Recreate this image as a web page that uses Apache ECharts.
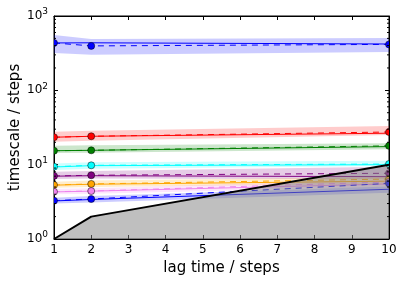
<!DOCTYPE html>
<html><head><meta charset="utf-8">
<script src="https://cdn.jsdelivr.net/npm/echarts@6/dist/echarts.min.js"></script>
<style>html,body{margin:0;padding:0;background:#fff}#c{width:403px;height:283px}</style>
</head><body><div id="c"></div>
<script>
// ---- data ----
var lags = [1, 2, 10];
var colors = ['#0000ff', '#ff0000', '#008000', '#00ffff', '#800080', '#ffa500', '#ee82ee', '#0000ff'];
// maximum-likelihood timescales (dashed, markers)
var ml = [
  [434, 396, 415],
  [23.4, 24.1, 27.5],
  [15.4, 15.6, 17.9],
  [9.4, 9.8, 10.2],
  [7.05, 7.2, 7.66],
  [5.33, 5.5, 6.4],
  [4.33, 4.42, 5.85],
  [3.28, 3.45, 5.6]
];
// sample means (solid)
var mean = [
  [434, 436, 420],
  [23.4, 24.1, 26.5],
  [15.4, 15.6, 17.5],
  [9.3, 9.7, 10.0],
  [7.0, 7.1, 6.9],
  [5.3, 5.45, 6.0],
  [4.3, 4.4, 5.5],
  [3.25, 3.4, 4.67]
];
// confidence band lower / upper
var lower = [
  [319, 300, 329],
  [20.4, 21.0, 25.0],
  [14.3, 14.5, 16.1],
  [8.5, 8.8, 9.6],
  [6.4, 6.5, 6.35],
  [4.9, 5.0, 5.5],
  [4.0, 4.05, 5.0],
  [3.0, 3.1, 4.2]
];
var upper = [
  [557, 492, 507],
  [27.8, 28.5, 33.0],
  [18.0, 18.2, 19.4],
  [10.4, 10.8, 11.3],
  [8.0, 8.2, 9.4],
  [5.9, 6.1, 6.8],
  [4.7, 4.8, 6.3],
  [3.6, 3.8, 5.1]
];
var lagLine = [1, 2, 10];
var xTicks = [1, 2, 3, 4, 5, 6, 7, 8, 9, 10];
var minorVals = [];
[1, 10, 100].forEach(function (d) { for (var k = 2; k <= 9; k++) minorVals.push(k * d); });

// ---- chart ----
var chart = echarts.init(document.getElementById('c'), null, {renderer: 'canvas'});
var series = [];
var font = 'DejaVu Sans';

function clipRect(params) {
  var cs = params.coordSys;
  return {type: 'rect', shape: {x: cs.x, y: cs.y, width: cs.width, height: cs.height}};
}

function bandSeries(i) {
  var data = lags.map(function (l, j) { return [l, lower[i][j], upper[i][j]]; });
  return {
    type: 'custom', z: 1, silent: true,
    data: data,
    renderItem: function (params, api) {
      if (params.dataIndex !== 0) return;
      var pts = [];
      for (var j = 0; j < data.length; j++) pts.push(api.coord([data[j][0], data[j][2]]));
      for (var j = data.length - 1; j >= 0; j--) pts.push(api.coord([data[j][0], data[j][1]]));
      return {type: 'polygon', shape: {points: pts}, style: {fill: colors[i], opacity: 0.2}};
    }
  };
}

function markerSeries(i) {
  return {
    type: 'custom', z: 4, silent: true,
    data: lags.map(function (l, j) { return [l, ml[i][j]]; }),
    renderItem: function (params, api) {
      var p = api.coord([api.value(0), api.value(1)]);
      return {type: 'circle', shape: {cx: p[0], cy: p[1], r: 3.5},
        style: {fill: colors[i], stroke: '#000', lineWidth: 0.5},
        clipPath: clipRect(params)};
    }
  };
}

for (var i = 0; i < ml.length; i++) {
  series.push(bandSeries(i));
  series.push({
    type: 'line', z: 2, symbol: 'none', silent: true,
    data: lags.map(function (l, j) { return [l, mean[i][j]]; }),
    lineStyle: {color: colors[i], width: 1}
  });
  series.push({
    type: 'line', z: 3, symbol: 'none', silent: true,
    data: lags.map(function (l, j) { return [l, ml[i][j]]; }),
    lineStyle: {color: colors[i], width: 1, type: [6, 5]}
  });
  series.push(markerSeries(i));
}
// lag time line and shaded region
series.push({
  type: 'line', z: 5, symbol: 'none', silent: true,
  data: lags.map(function (l, j) { return [l, lagLine[j]]; }),
  lineStyle: {color: '#000', width: 2},
  areaStyle: {color: '#808080', opacity: 0.5, origin: 'start'}
});
// minor ticks on the log axis (left and right)
series.push({
  type: 'custom', z: 6, silent: true,
  data: minorVals.map(function (v) { return [1, v]; }),
  renderItem: function (params, api) {
    var p = api.coord([1, api.value(1)]);
    var q = api.coord([10, api.value(1)]);
    return {type: 'group', children: [
      {type: 'line', shape: {x1: p[0], y1: p[1], x2: p[0] + 2, y2: p[1]}, style: {stroke: '#000', lineWidth: 1}},
      {type: 'line', shape: {x1: q[0], y1: q[1], x2: q[0] - 2, y2: q[1]}, style: {stroke: '#000', lineWidth: 1}}
    ]};
  }
});

chart.setOption({
  animation: false,
  grid: {left: 54, right: 14, top: 16, bottom: 44, outerBoundsMode: 'none', containLabel: false,
    show: true, borderColor: '#000', borderWidth: 1, backgroundColor: 'transparent'},
  xAxis: [{
    type: 'value', min: 1, max: 10, interval: 1, position: 'bottom',
    name: 'lag time / steps', nameLocation: 'middle', nameGap: 22, nameMoveOverlap: false,
    nameTextStyle: {fontFamily: font, fontSize: 15, color: '#000'},
    axisLine: {show: true, lineStyle: {color: '#000', width: 1}},
    axisTick: {show: true, inside: true, length: 4, lineStyle: {color: '#000'}},
    axisLabel: {fontFamily: font, fontSize: 12, color: '#000', margin: 5,
      formatter: function (v) { return xTicks.indexOf(v) >= 0 ? String(v) : ''; }},
    splitLine: {show: false}
  }, {
    type: 'value', min: 1, max: 10, interval: 1, position: 'top',
    axisLine: {show: true, lineStyle: {color: '#000', width: 1}},
    axisTick: {show: true, inside: true, length: 4, lineStyle: {color: '#000'}},
    axisLabel: {show: false}, splitLine: {show: false}
  }],
  yAxis: [{
    type: 'log', logBase: 10, min: 1, max: 1000, position: 'left',
    name: 'timescale / steps', nameLocation: 'middle', nameGap: 31, nameRotate: 90, nameMoveOverlap: false,
    nameTextStyle: {fontFamily: font, fontSize: 15, color: '#000'},
    axisLine: {show: true, lineStyle: {color: '#000', width: 1}},
    axisTick: {show: true, inside: true, length: 4, lineStyle: {color: '#000'}},
    axisLabel: {fontFamily: font, fontSize: 12, color: '#000', margin: 6,
      formatter: function (v) { return '10{s|' + Math.round(Math.log10(v)) + '}'; },
      rich: {s: {fontFamily: font, fontSize: 9, color: '#000', padding: [0, 0, 8, 0]}}},
    splitLine: {show: false}, minorTick: {show: false}
  }, {
    type: 'log', logBase: 10, min: 1, max: 1000, position: 'right',
    axisLine: {show: true, lineStyle: {color: '#000', width: 1}},
    axisTick: {show: true, inside: true, length: 4, lineStyle: {color: '#000'}},
    axisLabel: {show: false}, splitLine: {show: false}
  }],
  series: series
});
</script></body></html>
